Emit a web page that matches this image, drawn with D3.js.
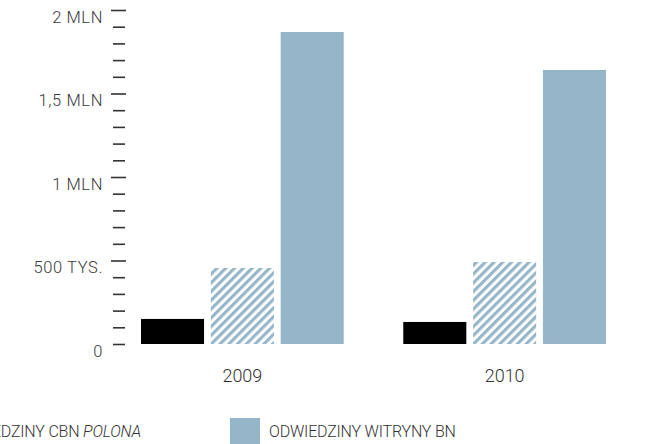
<!DOCTYPE html>
<html>
<head>
<meta charset="utf-8">
<script src="https://cdn.jsdelivr.net/npm/d3@7"></script>
<style>
  body { margin: 0; background: #fff; }
  svg { display: block; font-family: Roboto, "Open Sans", sans-serif; }
</style>
</head>
<body>
<svg id="chart" width="647" height="444"></svg>
<script>
// data
const years = ["2009", "2010"];
const seriesKeys = ["black", "hatch", "blue"];
const blackValues = [150000, 132000];
const hatchValues = [455000, 491000];
const blueValues = [1868000, 1641000];
const yTicks = d3.range(0, 2000001, 100000);
const yLabels = {0: "0", 500000: "500 TYS.", 1000000: "1 MLN", 1500000: "1,5 MLN", 2000000: "2 MLN"};
const legendItems = [
  {key: "hatch", text: "ODWIEDZINY CBN ", italic: "POLONA"},
  {key: "blue", text: "ODWIEDZINY WITRYNY BN", italic: ""}
];

const blue = "#94b6c8";

const svg = d3.select("#chart");

const defs = svg.append("defs");
const pat = defs.append("pattern")
  .attr("id", "hatch")
  .attr("patternUnits", "userSpaceOnUse")
  .attr("width", 6.2)
  .attr("height", 10)
  .attr("patternTransform", "rotate(45)");
pat.append("rect").attr("width", 6.2).attr("height", 10).attr("fill", "#fff");
pat.append("rect").attr("width", 3.1).attr("height", 10).attr("fill", blue);

const fills = {black: "#000", hatch: "url(#hatch)", blue: blue};

const y = d3.scaleLinear()
  .domain([0, 2000000])
  .range([344, 10]);

const x0 = d3.scaleBand()
  .domain(years)
  .range([141, 606])
  .paddingInner(0.227);

const x1 = d3.scaleBand()
  .domain(seriesKeys)
  .range([0, x0.bandwidth()])
  .paddingInner(0.097);

const rows = years.map((yr, i) => ({
  year: yr,
  values: [
    {key: "black", v: blackValues[i]},
    {key: "hatch", v: hatchValues[i]},
    {key: "blue", v: blueValues[i]}
  ]
}));

// y axis
const yAxis = svg.append("g")
  .attr("transform", "translate(125,0)")
  .call(d3.axisLeft(y)
    .tickValues(yTicks)
    .tickSizeInner(12)
    .tickSizeOuter(0)
    .tickPadding(10)
    .tickFormat(d => yLabels[d] || ""));
yAxis.select(".domain").remove();
yAxis.selectAll(".tick line")
  .attr("stroke", "#333")
  .attr("stroke-width", 1.6)
  .attr("x1", d => yLabels[d] !== undefined && d > 0 ? 1 : 0)
  .attr("x2", d => yLabels[d] !== undefined && d > 0 ? -14 : -12);
yAxis.selectAll(".tick text")
  .attr("fill", "#3a3a3a")
  .attr("font-size", 16.5)
  .attr("font-weight", 300)
  .attr("letter-spacing", 0.6)
  .attr("font-family", "Roboto, sans-serif")
  .attr("y", 7);

// bars
const groups = svg.selectAll(".grp")
  .data(rows)
  .enter()
  .append("g")
  .attr("class", "grp")
  .attr("transform", d => "translate(" + x0(d.year) + ",0)");

groups.selectAll("rect")
  .data(d => d.values)
  .enter()
  .append("rect")
  .attr("x", d => x1(d.key))
  .attr("width", x1.bandwidth())
  .attr("y", d => y(d.v))
  .attr("height", d => y(0) - y(d.v))
  .attr("fill", d => fills[d.key]);

// x labels
svg.selectAll(".xlab")
  .data(years)
  .enter()
  .append("text")
  .attr("class", "xlab")
  .attr("x", d => x0(d) + x0.bandwidth() / 2)
  .attr("y", 382)
  .attr("text-anchor", "middle")
  .attr("font-size", 18)
  .attr("font-weight", 300)
  .attr("fill", "#333")
  .text(d => d);

// legend
const legend = svg.append("g");
const blueItem = legend.append("g").attr("transform", "translate(230,418)");
blueItem.append("rect").attr("width", 30).attr("height", 30).attr("fill", fills.blue);
blueItem.append("text")
  .attr("x", 39).attr("y", 19)
  .attr("font-size", 16).attr("font-weight", 300).attr("fill", "#333")
  .attr("letter-spacing", -0.2)
  .text(legendItems[1].text);

const hatchText = legend.append("text")
  .attr("x", 141).attr("y", 437)
  .attr("text-anchor", "end")
  .attr("font-size", 16).attr("font-weight", 300).attr("fill", "#333")
  .attr("letter-spacing", -0.2);
hatchText.append("tspan").text(legendItems[0].text);
hatchText.append("tspan").attr("font-style", "italic").text(legendItems[0].italic);
const hw = hatchText.node().getComputedTextLength();
legend.append("rect")
  .attr("x", 141 - hw - 38).attr("y", 418)
  .attr("width", 30).attr("height", 30)
  .attr("fill", fills.hatch);
</script>
</body>
</html>
